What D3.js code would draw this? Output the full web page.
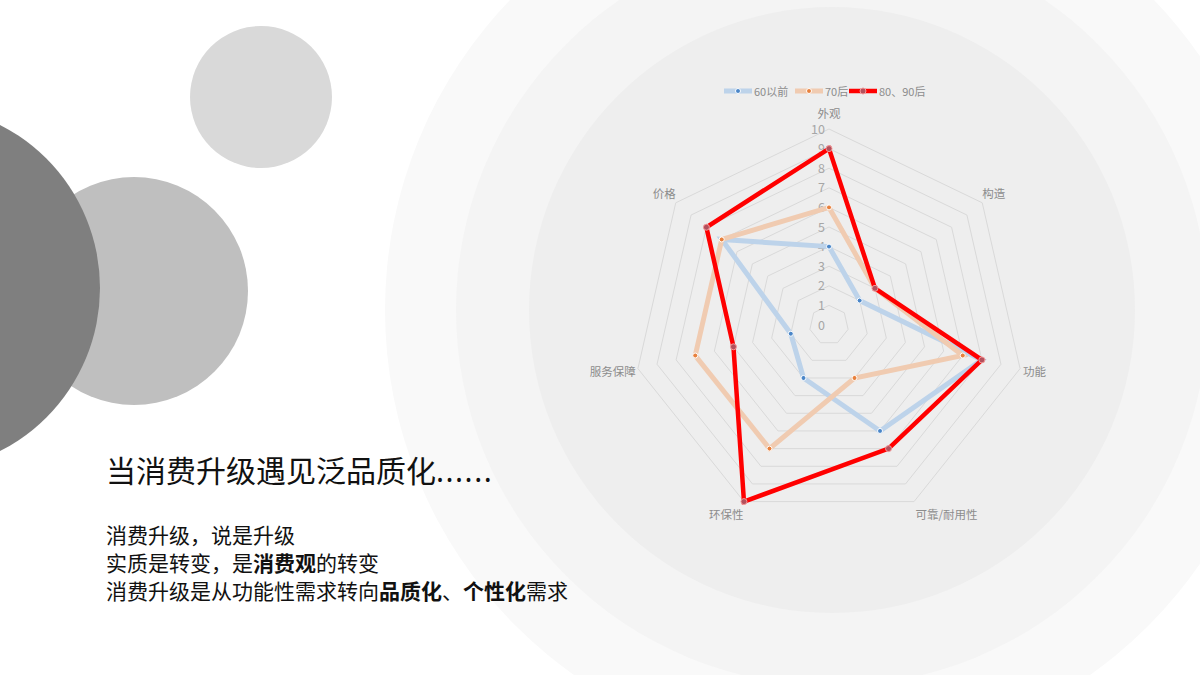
<!DOCTYPE html>
<html>
<head>
<meta charset="utf-8">
<script src="https://cdn.jsdelivr.net/npm/d3@7"></script>
<style>
  html, body { margin: 0; padding: 0; background: #fff; }
  #chart { width: 1200px; height: 675px; overflow: hidden; }
  svg { display: block; font-family: "Noto Sans CJK SC", "Noto Sans", sans-serif; }
</style>
</head>
<body>
<div id="chart"></div>
<script>
const axes = ["外观", "构造", "功能", "可靠/耐用性", "环保性", "服务保障", "价格"];
const seriesNames = ["60以前", "70后", "80、90后"];
const pre60 = [4, 2, 8, 6, 3, 2, 7];
const post70 = [6, 3, 7, 3, 7, 7, 7];
const post8090 = [9, 3, 8, 7, 10, 5, 8];
const ticks = [0, 1, 2, 3, 4, 5, 6, 7, 8, 9, 10];

const titleText = "当消费升级遇见泛品质化";
const titleTail = "......";
const bodyLines = [
  [["消费升级，说是升级", false]],
  [["实质是转变，是", false], ["消费观", true], ["的转变", false]],
  [["消费升级是从功能性需求转向", false], ["品质化", true], ["、", false], ["个性化", true], ["需求", false]]
];

function draw() {
  const W = 1200, H = 675;
  const svg = d3.select("#chart").append("svg")
    .attr("width", W).attr("height", H).attr("viewBox", `0 0 ${W} ${H}`);

  // background circles
  const bg = svg.append("g");
  [[832, 310, 447, "#f9f9f9"], [832, 310, 376, "#f4f4f4"], [832, 310, 303, "#eeeeee"],
   [134, 291, 114, "#bfbfbf"], [-83, 288, 183, "#7f7f7f"], [261, 97, 71, "#d9d9d9"]]
    .forEach(([x, y, r, c]) => bg.append("circle").attr("cx", x).attr("cy", y).attr("r", r).attr("fill", c));

  // left text
  const title = svg.append("text")
    .attr("x", 106).attr("y", 482)
    .attr("fill", "#111").style("font-size", "30px");
  title.append("tspan").text(titleText);
  title.append("tspan")
    .style("font-family", "'Noto Sans', sans-serif")
    .style("letter-spacing", "1.5px")
    .text(titleTail);

  bodyLines.forEach((parts, i) => {
    const t = svg.append("text")
      .attr("x", 106).attr("y", 543 + i * 28)
      .attr("fill", "#111").style("font-size", "21px");
    parts.forEach(([s, bold]) => {
      t.append("tspan").attr("font-weight", bold ? 700 : 400).text(s);
    });
  });

  // radar
  const cx = 829, cy = 325;
  const r = d3.scaleLinear().domain([0, 10]).range([0, 196]);
  const n = axes.length;
  const angle = i => -Math.PI / 2 + i * 2 * Math.PI / n;
  const pt = (i, v) => [cx + r(v) * Math.cos(angle(i)), cy + r(v) * Math.sin(angle(i))];

  const g = svg.append("g");
  const line = d3.line();

  g.selectAll("path.grid")
    .data(ticks.filter(d => d > 0))
    .join("path")
    .attr("class", "grid")
    .attr("d", v => line(d3.range(n).map(i => pt(i, v))) + "Z")
    .attr("fill", "none")
    .attr("stroke", "#d9d9d9")
    .attr("stroke-width", 1);

  g.selectAll("text.tick")
    .data(ticks)
    .join("text")
    .attr("class", "tick")
    .attr("x", cx - 4)
    .attr("y", v => cy - r(v) - 1)
    .attr("text-anchor", "end")
    .attr("dominant-baseline", "central")
    .attr("fill", "#a6a6a6")
    .style("font-size", "12.5px")
    .text(v => v);

  // axis labels
  g.selectAll("text.axis")
    .data(axes)
    .join("text")
    .attr("class", "axis")
    .each(function (d, i) {
      const a = angle(i), c = Math.cos(a), s = Math.sin(a);
      const [x, y] = pt(i, 10.75);
      const sel = d3.select(this).attr("y", y - 1).attr("dominant-baseline", "central");
      if (s > 0.8) {
        sel.attr("x", c > 0 ? x - 5 : x + 6).attr("text-anchor", c > 0 ? "start" : "end");
      } else {
        const w = d.length * 11.5;
        sel.attr("x", x + c * Math.max(0, w / 2 - 12)).attr("text-anchor", "middle");
      }
    })
    .attr("fill", "#8c8c8c")
    .style("font-size", "11.5px")
    .text(d => d);

  const series = [
    { name: seriesNames[0], values: pre60, stroke: "#bdd3ea", width: 5, mFill: "#4a86c8", mStroke: "#ffffff", mr: 2.5 },
    { name: seriesNames[1], values: post70, stroke: "#f0cbb1", width: 5, mFill: "#e8803c", mStroke: "#ffffff", mr: 2.5 },
    { name: seriesNames[2], values: post8090, stroke: "#ff0000", width: 4.5, mFill: "#b3505c", mStroke: "#f39a9a", mr: 3 }
  ];

  series.forEach(sr => {
    const pts = sr.values.map((v, i) => pt(i, v));
    g.append("path")
      .attr("d", line(pts) + "Z")
      .attr("fill", "none")
      .attr("stroke", sr.stroke)
      .attr("stroke-width", sr.width)
      .attr("stroke-linejoin", "miter");
    g.selectAll(null)
      .data(pts)
      .join("circle")
      .attr("cx", d => d[0]).attr("cy", d => d[1])
      .attr("r", sr.mr)
      .attr("fill", sr.mFill)
      .attr("stroke", sr.mStroke)
      .attr("stroke-width", 1);
  });

  // legend
  const lg = svg.append("g").attr("transform", "translate(724,91)");
  const offsets = [0, 71, 125];
  series.forEach((sr, i) => {
    const item = lg.append("g").attr("transform", `translate(${offsets[i]},0)`);
    item.append("line")
      .attr("x1", 0).attr("x2", 28).attr("y1", 0).attr("y2", 0)
      .attr("stroke", sr.stroke).attr("stroke-width", sr.width);
    item.append("circle")
      .attr("cx", 14).attr("cy", 0).attr("r", sr.mr)
      .attr("fill", sr.mFill).attr("stroke", sr.mStroke).attr("stroke-width", 1);
    item.append("text")
      .attr("x", 30).attr("y", 0)
      .attr("dominant-baseline", "central")
      .attr("fill", "#8c8c8c")
      .style("font-size", "11px")
      .text(sr.name);
  });
}

draw();
</script>
</body>
</html>
